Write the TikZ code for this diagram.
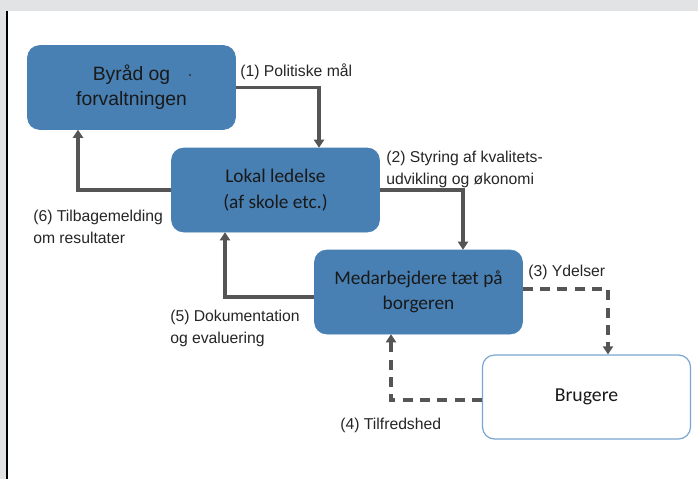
\documentclass[tikz,border=0pt]{standalone}
\usepackage{fontspec}
\setmainfont{Liberation Sans}
\newfontfamily\carlito{Carlito}
\usepackage{tikz}
\usetikzlibrary{arrows.meta, positioning, calc}
\usepackage{xcolor}
\definecolor{blokblaa}{RGB}{72,128,180}
\definecolor{pilgraa}{RGB}{85,85,85}
\definecolor{kantblaa}{RGB}{120,165,210}
\definecolor{rammegraa}{RGB}{226,227,229}

\begin{document}
\begin{tikzpicture}[
    x=0.75pt, y=-0.75pt,
    blok/.style={fill=blokblaa, draw=blokblaa, rounded corners=9pt, minimum width=156pt, minimum height=63pt, align=center, text=black!90},
    lbl/.style={font=\fontsize{11.8}{16.5}\selectfont, text=black!85, align=left, anchor=west, inner sep=0pt},
    arr/.style={-{Triangle[length=6pt, width=7.5pt]}, line width=2.6pt, draw=pilgraa},
    darr/.style={arr, dash pattern=on 7.5pt off 5.5pt}
]
% ramme
\useasboundingbox (0,0) rectangle (698,479);
\fill[white] (0,0) rectangle (698,479);
\fill[rammegraa] (0,0) rectangle (698,11);
\fill[rammegraa] (0,11) rectangle (6,479);
\fill[black] (6,11) rectangle (8,479);

% kasser
\node (byraad) [blok, font=\fontsize{14.5}{19}\selectfont] at (131.5,87.5) {Byråd og\\forvaltningen};
\node (lokal) [blok, font=\carlito\fontsize{14.5}{19}\selectfont] at (275.5,190) {Lokal ledelse\\(af skole etc.)};
\node (medarb) [blok, font=\carlito\fontsize{14.5}{19}\selectfont] at (418.5,292) {Medarbejdere tæt på\\borgeren};
\node (brugere) [blok, fill=white, draw=kantblaa, line width=0.9pt, font=\carlito\fontsize{14.8}{19}\selectfont] at (586.5,397) {Brugere};
\fill[black!80] (190,75) circle (1.2);

% pile
\draw[arr] (byraad.east) -| ($(lokal.north)+(43.5,0)$);
\draw[arr] (lokal.east) -| ($(medarb.north)+(44.5,0)$);
\draw[darr] ($(medarb.east)+(0,-3)$) -| ($(brugere.north)+(21.5,0)$);
\draw[darr] ($(brugere.west)+(0,3)$) -| ($(medarb.south)+(-27.5,0)$);
\draw[arr] ($(medarb.west)+(0,5)$) -| ($(lokal.south)+(-50.5,0)$);
\draw[arr] (lokal.west) -| ($(byraad.south)+(-53.5,0)$);

% tekster
\node (t1) [lbl] at (240,72) {(1) Politiske mål};
\node (t2) [lbl] at (386,169) {(2) Styring af kvalitets-\\udvikling og økonomi};
\node (t3) [lbl] at (528,272) {(3) Ydelser};
\node (t4) [lbl] at (340,425) {(4) Tilfredshed};
\node (t5) [lbl] at (170,328.5) {(5) Dokumentation\\og evaluering};
\node (t6) [lbl] at (33,227) {(6) Tilbagemelding\\om resultater};
\end{tikzpicture}
\end{document}
